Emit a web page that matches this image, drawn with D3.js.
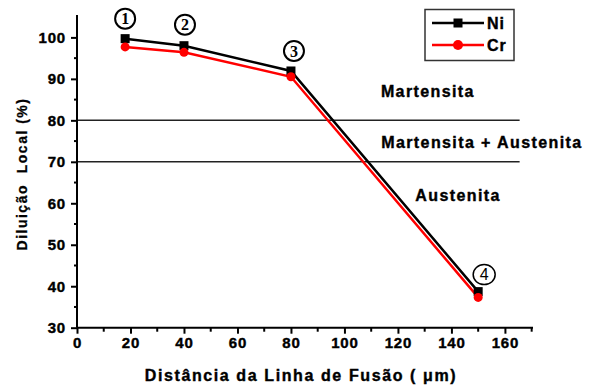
<!DOCTYPE html>
<html><head><meta charset="utf-8">
<script src="https://cdn.jsdelivr.net/npm/d3@7"></script>
<style>
body{margin:0;background:#fff;}
text{font-family:"Liberation Sans",Arial,sans-serif;font-weight:bold;fill:#000;}
</style></head>
<body><svg id="c" width="591" height="387"></svg>
<script>
const distances = [18, 40, 80, 150];
const niValues = [99.7, 98.0, 91.9, 38.7];
const crValues = [97.7, 96.4, 90.5, 37.3];
const pointLabels = ["1", "2", "3", "4"];
const xTicks = [0, 20, 40, 60, 80, 100, 120, 140, 160];
const yTicks = [30, 40, 50, 60, 70, 80, 90, 100];
const phaseLimits = [80, 70];
const phaseLabels = [
  {text: "Martensita", x: 131.2, y: 87.0},
  {text: "Martensita + Austenita", x: 151.4, y: 74.7},
  {text: "Austenita", x: 142.5, y: 62.0}
];
const seriesNames = ["Ni", "Cr"];

const svg = d3.select("#c");
const x = d3.scaleLinear().domain([0, 170.5]).range([77, 533]);
const y = d3.scaleLinear().domain([30, 105.4]).range([327.7, 15]);

// horizontal phase lines
svg.selectAll(".hl").data(phaseLimits).join("line")
  .attr("x1", x(0)).attr("x2", x(165.5))
  .attr("y1", d => y(d)).attr("y2", d => y(d))
  .attr("stroke", "#222").attr("stroke-width", 1.5);

// axes
const xAxis = d3.axisBottom(x).tickValues(xTicks).tickSize(6).tickPadding(4).tickFormat(d3.format("d"));
const gx = svg.append("g").attr("transform", `translate(0,${y(30)})`).call(xAxis);
const yAxis = d3.axisLeft(y).tickValues(yTicks).tickSize(6).tickPadding(5).tickFormat(d3.format("d"));
const gy = svg.append("g").attr("transform", `translate(${x(0)},0)`).call(yAxis);
// minor ticks
const xMinor = d3.range(10, 171, 20);
gx.selectAll(".mn").data(xMinor).join("line").attr("x1", d => x(d)).attr("x2", d => x(d))
  .attr("y1", 0).attr("y2", 4).attr("stroke", "#000").attr("stroke-width", 2);
const yMinor = d3.range(35, 105, 10);
gy.selectAll(".mn").data(yMinor).join("line").attr("y1", d => y(d)).attr("y2", d => y(d))
  .attr("x1", 0).attr("x2", -3).attr("stroke", "#000").attr("stroke-width", 2);
[gx, gy].forEach(g => {
  g.select(".domain").attr("stroke", "#000").attr("stroke-width", 2);
  g.selectAll(".tick line").attr("stroke", "#000").attr("stroke-width", 2);
  g.selectAll(".tick text").style("font-family", "Liberation Sans, Arial, sans-serif")
    .style("font-weight", "bold").style("font-size", "15px").style("letter-spacing", "0.8px")
    .attr("fill", "#000").attr("stroke", "#000").attr("stroke-width", 0.4);
});
gx.select(".domain").attr("d", `M${x(0)},0H${x(170.5)}`);
gy.select(".domain").attr("d", `M0,${y(30)}V${y(105.4)}`);

// lines
const line = d3.line().x(d => x(d[0])).y(d => y(d[1]));
const niData = distances.map((d, i) => [d, niValues[i]]);
const crData = distances.map((d, i) => [d, crValues[i]]);
svg.append("path").datum(niData).attr("d", line).attr("fill", "none").attr("stroke", "#000").attr("stroke-width", 2.5);
svg.append("path").datum(crData).attr("d", line).attr("fill", "none").attr("stroke", "#f00").attr("stroke-width", 2.5);
svg.selectAll(".sq").data(niData).join("rect")
  .attr("x", d => x(d[0]) - 4.5).attr("y", d => y(d[1]) - 4.5).attr("width", 9).attr("height", 9).attr("fill", "#000");
svg.selectAll(".ci").data(crData).join("circle")
  .attr("cx", d => x(d[0])).attr("cy", d => y(d[1])).attr("r", 4.5).attr("fill", "#f00");

// circled labels
const labelPos = [{dx: 0, dy: -20}, {dx: 1, dy: -21}, {dx: 3, dy: -20}, {dx: 6, dy: -17}];
const lg = svg.selectAll(".pl").data(distances).join("g")
  .attr("transform", (d, i) => `translate(${x(d) + labelPos[i].dx},${y(niValues[i]) + labelPos[i].dy})`);
lg.append("ellipse").attr("rx", (d, i) => i === 3 ? 11 : 10).attr("ry", 10)
  .attr("fill", "#fff").attr("stroke", "#000").attr("stroke-width", (d, i) => i === 3 ? 1.5 : 2);
lg.append("text").text((d, i) => pointLabels[i]).attr("text-anchor", "middle").attr("dy", "0.36em")
  .style("font-size", "16px").style("font-family", (d, i) => i === 3 ? "Liberation Sans, Arial, sans-serif" : "Liberation Serif, Times New Roman, serif")
  .style("font-weight", (d, i) => i === 3 ? "normal" : "bold");

// phase labels
svg.selectAll(".ph").data(phaseLabels).join("text")
  .attr("x", d => x(d.x)).attr("y", d => y(d.y)).attr("text-anchor", "middle").attr("dy", "0.35em")
  .style("font-size", "16px").style("letter-spacing", "1.4px")
  .attr("stroke", "#000").attr("stroke-width", 0.4).text(d => d.text);

// legend
const leg = svg.append("g");
leg.append("rect").attr("x", 425).attr("y", 9.5).attr("width", 89).attr("height", 51)
  .attr("fill", "#fff").attr("stroke", "#333").attr("stroke-width", 1.5);
const legColors = ["#000", "#f00"];
seriesNames.forEach((n, i) => {
  const ly = 23 + i * 22;
  leg.append("line").attr("x1", 432).attr("x2", 484).attr("y1", ly).attr("y2", ly)
    .attr("stroke", legColors[i]).attr("stroke-width", 2.5);
  if (i === 0) leg.append("rect").attr("x", 453.5).attr("y", ly - 4.5).attr("width", 9).attr("height", 9).attr("fill", "#000");
  else leg.append("circle").attr("cx", 458).attr("cy", ly).attr("r", 5).attr("fill", "#f00");
  leg.append("text").attr("x", 487).attr("y", ly).attr("dy", "0.36em").style("font-size", "16px")
    .style("letter-spacing", "1px").attr("stroke", "#000").attr("stroke-width", 0.4).text(n);
});

// axis titles
svg.append("text").attr("x", 301).attr("y", 375).attr("text-anchor", "middle").attr("dy", "0.35em")
  .style("font-size", "16px").style("letter-spacing", "1.6px").style("white-space", "pre")
  .attr("stroke", "#000").attr("stroke-width", 0.4)
  .text("Distância da Linha de Fusão ( μm)");
svg.append("text").attr("transform", "translate(22,174) rotate(-90)").attr("text-anchor", "middle").attr("dy", "0.35em")
  .style("font-size", "14px").style("letter-spacing", "1.5px").style("white-space", "pre")
  .attr("stroke", "#000").attr("stroke-width", 0.3)
  .text("Diluição  Local (%)");
</script></body></html>
